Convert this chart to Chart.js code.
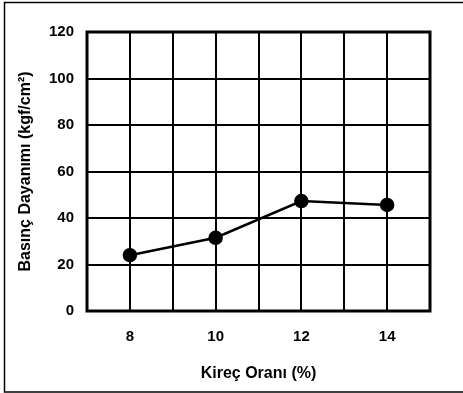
<!DOCTYPE html>
<html>
<head>
<meta charset="utf-8">
<script src="https://cdn.jsdelivr.net/npm/chart.js@4/dist/chart.umd.min.js"></script>
<style>
  html, body { margin: 0; padding: 0; background: #fff; }
  #wrap { width: 463px; height: 393px; position: relative; }
</style>
</head>
<body>
<div id="wrap"><canvas id="c"></canvas></div>
<script>
const kirecOrani = [8, 10, 12, 14];
const basincDayanimi = [24, 31.5, 47.3, 45.6];
const xTickLabels = [8, 10, 12, 14];
const yTickValues = [0, 20, 40, 60, 80, 100, 120];
const xTitle = 'Kireç Oranı (%)';
const yTitle = 'Basınç Dayanımı (kgf/cm²)';

const fontFamily = '"Liberation Sans", Arial, sans-serif';

const framePlugin = {
  id: 'frame',
  beforeDraw(chart) {
    const ctx = chart.ctx;
    ctx.save();
    ctx.fillStyle = '#fff';
    ctx.fillRect(0, 0, chart.width, chart.height);
    ctx.strokeStyle = '#000';
    ctx.lineWidth = 1.5;
    ctx.strokeRect(4.5, 2.5, 480, 389.5);
    ctx.restore();
  },
  afterDatasetsDraw(chart) {
    const a = chart.chartArea;
    const ctx = chart.ctx;
    ctx.save();
    ctx.strokeStyle = '#000';
    ctx.lineWidth = 3;
    ctx.strokeRect(a.left, a.top, a.right - a.left, a.bottom - a.top);
    ctx.restore();
  }
};

new Chart(document.getElementById('c'), {
  type: 'line',
  data: {
    datasets: [{
      data: kirecOrani.map((x, i) => ({ x: x, y: basincDayanimi[i] })),
      borderColor: '#000',
      backgroundColor: '#000',
      borderWidth: 2.5,
      pointRadius: 6,
      pointBackgroundColor: '#000',
      pointBorderColor: '#000',
      tension: 0
    }]
  },
  options: {
    responsive: true,
    maintainAspectRatio: false,
    animation: false,
    layout: { padding: { left: 0, top: 32, right: 33, bottom: 0 } },
    plugins: { legend: { display: false }, tooltip: { enabled: false } },
    scales: {
      x: {
        type: 'linear',
        min: 7,
        max: 15,
        afterFit(s) { s.height = 82; },
        grid: { color: '#000', lineWidth: 2, drawTicks: false },
        border: { display: false },
        ticks: {
          stepSize: 1,
          padding: 17,
          color: '#000',
          font: { family: fontFamily, size: 15, weight: 'bold' },
          callback: (v) => xTickLabels.includes(v) ? String(v) : ''
        },
        title: {
          display: true,
          text: xTitle,
          color: '#000',
          font: { family: fontFamily, size: 16, weight: 'bold' },
          padding: { top: 0, bottom: 10 }
        }
      },
      y: {
        min: 0,
        max: 120,
        afterFit(s) { s.width = 87; },
        grid: { color: '#000', lineWidth: 2, drawTicks: false },
        border: { display: false },
        ticks: {
          stepSize: 20,
          padding: 13,
          color: '#000',
          font: { family: fontFamily, size: 15, weight: 'bold' },
          callback: (v) => yTickValues.includes(v) ? String(v) : ''
        },
        title: {
          display: true,
          text: yTitle,
          color: '#000',
          font: { family: fontFamily, size: 16, weight: 'bold' },
          padding: { top: 16, bottom: 0 }
        }
      }
    }
  },
  plugins: [framePlugin]
});
</script>
</body>
</html>
